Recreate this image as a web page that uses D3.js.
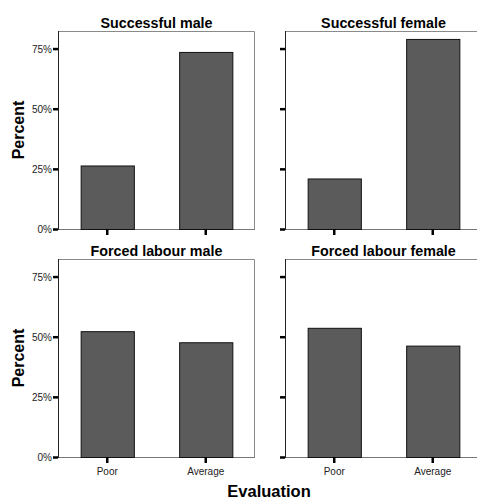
<!DOCTYPE html>
<html><head><meta charset="utf-8">
<script src="https://cdn.jsdelivr.net/npm/d3@7"></script>
<style>body{margin:0;background:#fff}svg{display:block}text{font-family:Arial,"Liberation Sans",sans-serif}</style>
</head><body>
<script>
const categories = ["Poor", "Average"];
const panelTitles = ["Successful male", "Successful female", "Forced labour male", "Forced labour female"];
const successfulMale = [26.4, 73.6];
const successfulFemale = [21.0, 79.0];
const forcedMale = [52.3, 47.7];
const forcedFemale = [53.7, 46.3];
const yTicks = [0, 25, 50, 75];
const yMax = 82.3;

const seriesList = [successfulMale, successfulFemale, forcedMale, forcedFemale];
const W = 477, H = 500;
const svg = d3.select("body").append("svg").attr("width", W).attr("height", H);

const pw = 197, ph = 198;
const px = [58, 285], py = [31, 259];

const x = d3.scaleBand().domain(categories).range([0, pw]).paddingInner(0.46).paddingOuter(0.23);
const y = d3.scaleLinear().domain([0, yMax]).range([ph, 0]);

seriesList.forEach((vals, i) => {
  const col = i % 2, row = Math.floor(i / 2);
  const g = svg.append("g").attr("transform", `translate(${px[col]},${py[row]})`);
  // frame top & right (grey)
  g.append("path").attr("d", `M0,0.5H${pw - 0.5}V${ph}`).attr("fill", "none").attr("stroke", "#8a8a8a").attr("stroke-width", 1);
  // bottom line
  g.append("line").attr("x1", 0).attr("x2", pw).attr("y1", ph + 0.5).attr("y2", ph + 0.5).attr("stroke", "#777").attr("stroke-width", 1);
  // bars
  g.selectAll("rect.bar").data(categories).enter().append("rect")
    .attr("x", d => x(d) + 0.5)
    .attr("y", (d, j) => y(vals[j]) + 0.5)
    .attr("width", x.bandwidth())
    .attr("height", (d, j) => ph - y(vals[j]))
    .attr("fill", "#5b5b5b").attr("stroke", "#111").attr("stroke-width", 1);
  // y axis
  const yAxis = d3.axisLeft(y).tickValues(yTicks).tickSize(0).tickFormat(col === 0 ? (d => d + "%") : (() => ""));
  const ya = g.append("g").call(yAxis);
  ya.select(".domain").remove();
  ya.selectAll("text").attr("x", -6).attr("dy", "0.35em").attr("font-size", 10).attr("fill", "#222").attr("font-family", "Arial, 'Liberation Sans', sans-serif");
  ya.selectAll(".tick").append("line").attr("x1", -5).attr("x2", 0).attr("stroke", "#000").attr("stroke-width", 2.5);
  g.append("line").attr("x1", 0.5).attr("x2", 0.5).attr("y1", 0).attr("y2", ph + 1).attr("stroke", "#222").attr("stroke-width", 1);
  // x axis ticks
  const xAxis = d3.axisBottom(x).tickSize(0).tickFormat(row === 1 ? (d => d) : (() => ""));
  const xa = g.append("g").attr("transform", `translate(0,${ph})`).call(xAxis);
  xa.select(".domain").remove();
  xa.selectAll("text").attr("y", 11).attr("dy", "0.71em").attr("font-size", 10).attr("fill", "#222").attr("font-family", "Arial, 'Liberation Sans', sans-serif");
  xa.selectAll(".tick").append("line").attr("y1", 0).attr("y2", 6).attr("stroke", "#000").attr("stroke-width", 2.5);
  // title
  g.append("text").attr("x", pw / 2).attr("y", -3.5).attr("text-anchor", "middle")
    .attr("font-size", 14.3).attr("font-weight", "bold").attr("fill", "#000").text(panelTitles[i]);
  // y label
  if (col === 0) {
    svg.append("text").attr("transform", `translate(24,${py[row] + ph / 2}) rotate(-90)`)
      .attr("text-anchor", "middle").attr("font-size", 16).attr("font-weight", "bold").text("Percent");
  }
});
svg.append("text").attr("x", 269).attr("y", 497).attr("text-anchor", "middle")
  .attr("font-size", 16.5).attr("font-weight", "bold").text("Evaluation");
</script>
</body></html>
